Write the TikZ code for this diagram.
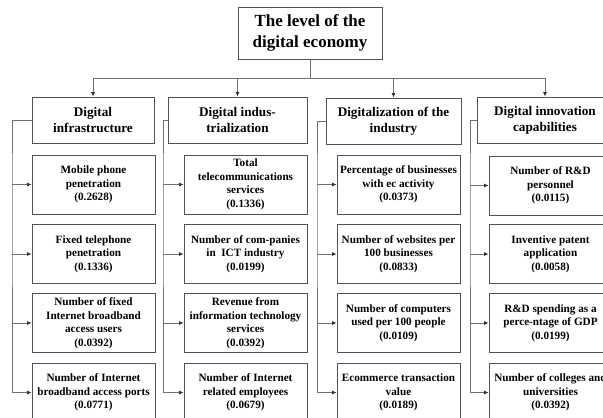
\documentclass[tikz,border=0pt]{standalone}
\usepackage{fontspec}
\setmainfont{Liberation Serif}
\usetikzlibrary{arrows.meta}
\definecolor{boxc}{RGB}{80,80,98}
\definecolor{linec}{RGB}{112,112,112}
\definecolor{tipc}{RGB}{50,50,50}
\begin{document}
\begin{tikzpicture}[x=1pt,y=-1pt,
  base/.style={draw=boxc,line width=0.9pt,inner sep=0pt,align=center,text=black},
  box/.style={base,font=\bfseries\fontsize{11.2}{13.5}\selectfont,minimum width=123pt,minimum height=59pt},
  catbox/.style={base,font=\bfseries\fontsize{13.2}{16}\selectfont,minimum height=46pt},
  topbox/.style={base,font=\bfseries\fontsize{17}{21}\selectfont,minimum width=144pt,minimum height=52pt},
  conn/.style={draw=linec,line width=0.8pt},
  arr/.style={conn,-{Latex[length=4.5pt,width=4pt,color=tipc]}}
]
\useasboundingbox (0,0) rectangle (603,418);
\clip (0,0) rectangle (603,418);
\fill[white] (0,0) rectangle (603,418);

% top
\node[topbox] (top) at (310,33) {The level of the\\digital economy};
\coordinate (hub) at (310,78);

% categories
\node[catbox,minimum width=122pt] (c1) at (93,120) {Digital\\infrastructure};
\node[catbox,minimum width=139pt] (c2) at (237.5,120) {Digital indus-\\trialization};
\node[catbox,minimum width=135pt] (c3) at (393.5,121) {Digitalization of the\\industry};
\node[catbox,minimum width=136pt] (c4) at (545,120) {Digital innovation\\capabilities};

\draw[conn] (top.south) -- (hub);
\foreach \c in {c1,c2,c3,c4} {\draw[arr] (hub) -| (\c.north);}

% column 1
\node[box] (d11) at (93.5,184.5) {Mobile phone\\penetration\\(0.2628)};
\node[box] (d12) at (93.5,254) {Fixed telephone\\penetration\\(0.1336)};
\node[box] (d13) at (93.5,323) {Number of fixed\\Internet broadband\\access users\\(0.0392)};
\node[box] (d14) at (93.5,392.5) {Number of Internet\\broadband access ports\\(0.0771)};

% column 2
\node[box] (d21) at (245.5,184.5) {Total\\telecommunications\\services\\(0.1336)};
\node[box] (d22) at (245.5,254) {Number of com-panies\\in\ \ ICT industry\\(0.0199)};
\node[box] (d23) at (245.5,323) {Revenue from\\information technology\\services\\(0.0392)};
\node[box] (d24) at (245.5,392.5) {Number of Internet\\related employees\\(0.0679)};

% column 3
\node[box] (d31) at (398.5,184.5) {Percentage of businesses\\with ec activity\\(0.0373)};
\node[box] (d32) at (398.5,254) {Number of websites per\\100 businesses\\(0.0833)};
\node[box] (d33) at (398.5,323) {Number of computers\\used per 100 people\\(0.0109)};
\node[box] (d34) at (398.5,392.5) {Ecommerce transaction\\value\\(0.0189)};

% column 4
\node[box] (d41) at (550.5,185.5) {Number of R\&D\\personnel\\(0.0115)};
\node[box] (d42) at (550.5,254) {Inventive patent\\application\\(0.0058)};
\node[box] (d43) at (550.5,323) {R\&D spending as a\\perce-ntage of GDP\\(0.0199)};
\node[box] (d44) at (550.5,392.5) {Number of colleges and\\universities\\(0.0392)};

% side buses
\coordinate (b1) at (12,184.5);
\coordinate (b2) at (163,184.5);
\coordinate (b3) at (317,184.5);
\coordinate (b4) at (470,184.5);

\foreach \i in {1,2,3,4} {
  \draw[arr] (c\i.west) -| (b\i) |- (d\i4.west);
  \draw[arr] (d\i1.west -| b\i) -- (d\i1.west);
  \draw[arr] (d\i2.west -| b\i) -- (d\i2.west);
  \draw[arr] (d\i3.west -| b\i) -- (d\i3.west);
}
\end{tikzpicture}
\end{document}
